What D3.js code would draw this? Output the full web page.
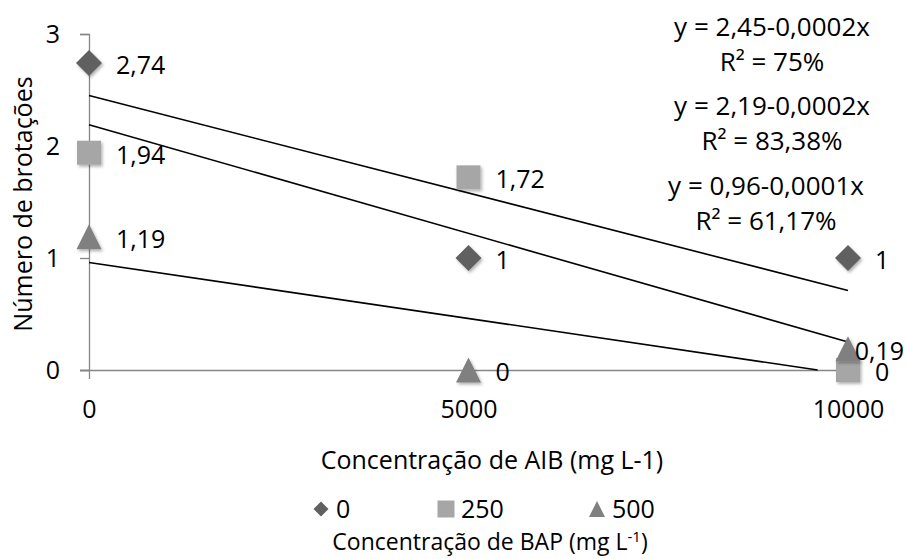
<!DOCTYPE html>
<html>
<head>
<meta charset="utf-8">
<script src="https://cdn.jsdelivr.net/npm/d3@7"></script>
<style>
body{margin:0;background:#fff;}
svg{font-family:"Open Sans",sans-serif;}
</style>
</head>
<body>
<div id="chart"></div>
<script>

// AIB concentrations (x) and shoot counts per BAP level
const aib = [0, 5000, 10000];
const bapLevels = ["0", "250", "500"];
const bap0 = [2.74, 1, 1];
const bap250 = [1.94, 1.72, 0];
const bap500 = [1.19, 0, 0.19];
const equations = ["y = 2,45-0,0002x", "y = 2,19-0,0002x", "y = 0,96-0,0001x"];
const rSquared = ["R² = 75%", "R² = 83,38%", "R² = 61,17%"];
const yTicks = [0, 1, 2, 3];

const width = 906;
const height = 559;

// excel-like marker shapes, s = box size
const diamond = s => `M0,${-s/2}L${s/2},0L0,${s/2}L${-s/2},0Z`;
const square = s => `M${-s/2},${-s/2}H${s/2}V${s/2}H${-s/2}Z`;
const triangle = s => `M0,${-s/2}L${s/2},${s/2}H${-s/2}Z`;

const series = [
    {name:bapLevels[0], values:bap0, shape:diamond, size:26, color:"#606060"},
    {name:bapLevels[1], values:bap250, shape:square, size:24, color:"#a6a6a6"},
    {name:bapLevels[2], values:bap500, shape:triangle, size:25, color:"#808080"}
];

const svg = d3.select("#chart")
    .append("svg")
    .attr("width",width)
    .attr("height",height);

const defs = svg.append("defs");
const shadow = defs.append("filter").attr("id","shadow")
    .attr("x","-50%").attr("y","-50%").attr("width","200%").attr("height","200%");
shadow.append("feDropShadow")
    .attr("dx",1.5).attr("dy",2).attr("stdDeviation",1.5)
    .attr("flood-color","#000").attr("flood-opacity",0.3);

const x = d3.scaleLinear().domain([0,10000]).range([89,848]);
const y = d3.scaleLinear().domain([0,3]).range([370,34]);

// axes
const yAxis = svg.append("g")
    .attr("transform","translate(89,0)")
    .call(d3.axisLeft(y).tickValues(yTicks).tickSize(9).tickPadding(20).tickFormat(d3.format("d")));

const xAxis = svg.append("g")
    .attr("transform","translate(0,370)")
    .call(d3.axisBottom(x).tickValues(aib).tickSize(9).tickPadding(21).tickFormat(d3.format("d")));

[yAxis,xAxis].forEach(a=>{
    a.selectAll("path,line").attr("stroke","#868686").attr("stroke-width",1.3);
    a.selectAll("text").attr("fill","#000").style("font-size","25px").style("font-family","Open Sans");
});
xAxis.select("path").attr("d","M80,0.5H848");

// trend lines from least squares, clipped at y = 0
const xMean = d3.mean(aib);
series.forEach(s=>{
    const yMean = d3.mean(s.values);
    const slope = d3.sum(aib,(a,i)=>(a-xMean)*(s.values[i]-yMean)) / d3.sum(aib,a=>(a-xMean)*(a-xMean));
    const intercept = yMean - slope*xMean;
    let xEnd = 10000;
    if(intercept + slope*xEnd < 0) xEnd = -intercept/slope;
    svg.append("line")
        .attr("x1",x(0)).attr("y1",y(intercept))
        .attr("x2",x(xEnd)).attr("y2",y(intercept+slope*xEnd))
        .attr("stroke","#000").attr("stroke-width",1.6);
});

// markers
series.forEach(s=>{
    svg.append("g").selectAll("path")
        .data(s.values)
        .enter()
        .append("path")
        .attr("d",s.shape(s.size))
        .attr("transform",(d,i)=>`translate(${x(aib[i])},${y(d)})`)
        .attr("fill",s.color)
        .attr("filter","url(#shadow)");
});

// data labels, pushed left if they run off the right edge
series.forEach(s=>{
    svg.append("g").selectAll("text")
        .data(s.values)
        .enter()
        .append("text")
        .attr("x",(d,i)=>x(aib[i])+27)
        .attr("y",d=>y(d)+11)
        .style("font-size","25px")
        .text(d=>String(d).replace(".",","))
        .each(function(){
            const b = this.getBBox();
            if(b.x+b.width > 904) d3.select(this).attr("x",904-b.width);
        });
});

// regression equations
const eqX = [772, 772, 766];
const eqY = [36, 115, 195];
const eq = svg.append("g").attr("text-anchor","middle").style("font-size","26px");
equations.forEach((e,i)=>{
    eq.append("text").attr("x",eqX[i]).attr("y",eqY[i]).text(e);
    eq.append("text").attr("x",eqX[i]).attr("y",eqY[i]+35).text(rSquared[i]);
});

// axis titles
svg.append("text")
    .attr("transform","translate(32,204) rotate(-90)")
    .attr("text-anchor","middle")
    .style("font-size","25px")
    .text("Número de brotações");

svg.append("text")
    .attr("x",492).attr("y",469)
    .attr("text-anchor","middle")
    .style("font-size","25px")
    .text("Concentração de AIB (mg L-1)");

// legend
const legendX = [321, 446, 597];
const legendSize = [15, 17, 16];
const legend = svg.append("g");
series.forEach((s,i)=>{
    legend.append("path")
        .attr("d",s.shape(legendSize[i]))
        .attr("transform",`translate(${legendX[i]},509)`)
        .attr("fill",s.color);
    legend.append("text")
        .attr("x",legendX[i]+15).attr("y",518)
        .style("font-size","25px")
        .text(s.name);
});

const lt = svg.append("text")
    .attr("x",490).attr("y",550)
    .attr("text-anchor","middle")
    .style("font-size","23px");
lt.append("tspan").text("Concentração de BAP (mg L");
lt.append("tspan").attr("dy",-8).style("font-size","15px").text("-1");
lt.append("tspan").attr("dy",8).text(")");

</script>
</body>
</html>
